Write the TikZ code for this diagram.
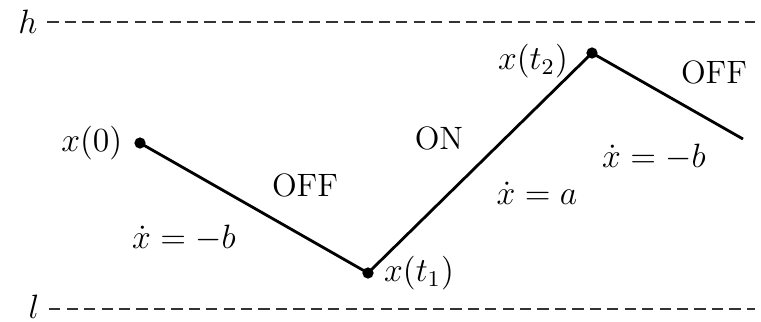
\documentclass[tikz,border=0pt]{standalone}
\usetikzlibrary{positioning}
\tikzset{
  dot/.style={circle, fill=black, inner sep=0pt, minimum size=4pt},
  bound/.style={dashed, dash pattern=on 4pt off 2.2pt, line width=0.7pt, black!80},
  traj/.style={line width=1pt, black}
}

\begin{document}
\begin{tikzpicture}[x=0.0125cm, y=-0.0125cm, every node/.style={font=\fontsize{11.5}{14}\selectfont}]
  \useasboundingbox (0,0) rectangle (761,321);

  % thresholds
  \node (h) at (28,22) {$h$};
  \node (l) at (34,307) {$l$};
  \coordinate (hend) at (755,22);
  \coordinate (lend) at (755,309);
  \draw[bound] (h.east |- 0,22) -- (hend);
  \draw[bound] (l.east |- 0,309) -- (lend);

  % switching points
  \node[dot] (p0) at (140,143) {};
  \node[dot] (p1) at (368,273) {};
  \node[dot] (p2) at (592,53) {};
  \coordinate (pend) at (743,139);

  \node[left=0.02cm of p0] (x0) {$x(0)$};
  \node[right=0.0cm of p1] (x1) {$x(t_1)$};
  \node[left=0.1cm of p2, yshift=-3pt] (x2) {$x(t_2)$};

  \draw[traj] (p0.center) -- (p1.center) -- (p2.center) -- (pend);

  % modes
  \node (off1) at (305,185) {OFF};
  \node (dyn1) at (184,238) {$\dot x = -b$};
  \node (on) at (439,138) {ON};
  \node (dyn2) at (537,193) {$\dot x = a$};
  \node (off2) at (714,72) {OFF};
  \node (dyn3) at (654,157) {$\dot x = -b$};
\end{tikzpicture}
\end{document}
